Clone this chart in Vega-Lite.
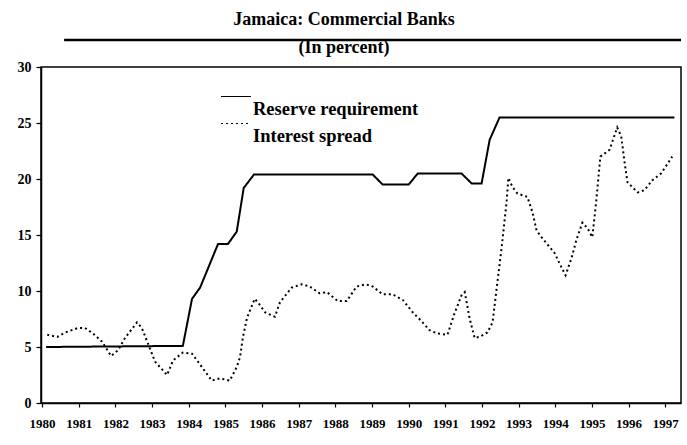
{
  "$schema": "https://vega.github.io/schema/vega-lite/v6.json",
  "width": 640,
  "height": 336,
  "autosize": {"type": "none"},
  "padding": {"left": 41, "top": 67, "right": 6, "bottom": 42},
  "background": "white",
  "title": {
    "text": "Jamaica: Commercial Banks",
    "subtitle": "(In percent)",
    "anchor": "middle",
    "frame": "group",
    "dx": -17,
    "font": "Times New Roman, Liberation Serif, DejaVu Serif, serif",
    "fontSize": 18,
    "fontWeight": "bold",
    "color": "black",
    "subtitleFont": "Times New Roman, Liberation Serif, DejaVu Serif, serif",
    "subtitleFontSize": 18,
    "subtitleFontWeight": "bold",
    "subtitleColor": "black",
    "subtitlePadding": 10,
    "offset": -18
  },
  "config": {
    "view": {"stroke": "black", "strokeWidth": 1.5},
    "axis": {
      "labelFont": "Times New Roman, Liberation Serif, DejaVu Serif, serif",
      "labelFontWeight": "bold",
      "labelColor": "black",
      "domainColor": "black",
      "domainWidth": 1.5,
      "tickColor": "black",
      "tickWidth": 1.2,
      "grid": false,
      "title": null
    }
  },
  "datasets": {
    "series": [
      {"year": 1980.11, "value": 5.0, "series": "Reserve requirement"},
      {"year": 1983.84, "value": 5.1, "series": "Reserve requirement"},
      {"year": 1984.09, "value": 9.3, "series": "Reserve requirement"},
      {"year": 1984.31, "value": 10.3, "series": "Reserve requirement"},
      {"year": 1984.8, "value": 14.2, "series": "Reserve requirement"},
      {"year": 1985.07, "value": 14.2, "series": "Reserve requirement"},
      {"year": 1985.31, "value": 15.3, "series": "Reserve requirement"},
      {"year": 1985.5, "value": 19.2, "series": "Reserve requirement"},
      {"year": 1985.78, "value": 20.4, "series": "Reserve requirement"},
      {"year": 1989.02, "value": 20.4, "series": "Reserve requirement"},
      {"year": 1989.29, "value": 19.5, "series": "Reserve requirement"},
      {"year": 1990.0, "value": 19.5, "series": "Reserve requirement"},
      {"year": 1990.25, "value": 20.5, "series": "Reserve requirement"},
      {"year": 1991.44, "value": 20.5, "series": "Reserve requirement"},
      {"year": 1991.72, "value": 19.6, "series": "Reserve requirement"},
      {"year": 1991.99, "value": 19.6, "series": "Reserve requirement"},
      {"year": 1992.21, "value": 23.5, "series": "Reserve requirement"},
      {"year": 1992.48, "value": 25.5, "series": "Reserve requirement"},
      {"year": 1997.25, "value": 25.5, "series": "Reserve requirement"},
      {"year": 1980.14, "value": 6.1, "series": "Interest spread"},
      {"year": 1980.41, "value": 5.9, "series": "Interest spread"},
      {"year": 1980.63, "value": 6.3, "series": "Interest spread"},
      {"year": 1980.98, "value": 6.7, "series": "Interest spread"},
      {"year": 1981.17, "value": 6.7, "series": "Interest spread"},
      {"year": 1981.39, "value": 6.2, "series": "Interest spread"},
      {"year": 1981.63, "value": 5.5, "series": "Interest spread"},
      {"year": 1981.88, "value": 4.2, "series": "Interest spread"},
      {"year": 1982.07, "value": 4.7, "series": "Interest spread"},
      {"year": 1982.26, "value": 5.8, "series": "Interest spread"},
      {"year": 1982.59, "value": 7.2, "series": "Interest spread"},
      {"year": 1982.72, "value": 6.7, "series": "Interest spread"},
      {"year": 1982.89, "value": 5.3, "series": "Interest spread"},
      {"year": 1983.08, "value": 3.7, "series": "Interest spread"},
      {"year": 1983.41, "value": 2.5, "series": "Interest spread"},
      {"year": 1983.57, "value": 3.8, "series": "Interest spread"},
      {"year": 1983.84, "value": 4.5, "series": "Interest spread"},
      {"year": 1984.09, "value": 4.4, "series": "Interest spread"},
      {"year": 1984.25, "value": 3.7, "series": "Interest spread"},
      {"year": 1984.63, "value": 2.0, "series": "Interest spread"},
      {"year": 1984.85, "value": 2.2, "series": "Interest spread"},
      {"year": 1985.12, "value": 2.0, "series": "Interest spread"},
      {"year": 1985.31, "value": 3.2, "series": "Interest spread"},
      {"year": 1985.4, "value": 4.1, "series": "Interest spread"},
      {"year": 1985.48, "value": 5.9, "series": "Interest spread"},
      {"year": 1985.59, "value": 7.6, "series": "Interest spread"},
      {"year": 1985.8, "value": 9.3, "series": "Interest spread"},
      {"year": 1985.91, "value": 8.9, "series": "Interest spread"},
      {"year": 1986.08, "value": 8.1, "series": "Interest spread"},
      {"year": 1986.35, "value": 7.7, "series": "Interest spread"},
      {"year": 1986.49, "value": 9.0, "series": "Interest spread"},
      {"year": 1986.81, "value": 10.3, "series": "Interest spread"},
      {"year": 1987.08, "value": 10.6, "series": "Interest spread"},
      {"year": 1987.3, "value": 10.4, "series": "Interest spread"},
      {"year": 1987.57, "value": 9.8, "series": "Interest spread"},
      {"year": 1987.77, "value": 9.9, "series": "Interest spread"},
      {"year": 1988.07, "value": 9.1, "series": "Interest spread"},
      {"year": 1988.31, "value": 9.1, "series": "Interest spread"},
      {"year": 1988.58, "value": 10.4, "series": "Interest spread"},
      {"year": 1988.83, "value": 10.6, "series": "Interest spread"},
      {"year": 1989.02, "value": 10.4, "series": "Interest spread"},
      {"year": 1989.29, "value": 9.7, "series": "Interest spread"},
      {"year": 1989.56, "value": 9.7, "series": "Interest spread"},
      {"year": 1989.84, "value": 9.2, "series": "Interest spread"},
      {"year": 1990.11, "value": 8.1, "series": "Interest spread"},
      {"year": 1990.38, "value": 7.2, "series": "Interest spread"},
      {"year": 1990.57, "value": 6.5, "series": "Interest spread"},
      {"year": 1990.79, "value": 6.2, "series": "Interest spread"},
      {"year": 1991.06, "value": 6.1, "series": "Interest spread"},
      {"year": 1991.25, "value": 8.0, "series": "Interest spread"},
      {"year": 1991.44, "value": 9.6, "series": "Interest spread"},
      {"year": 1991.53, "value": 9.9, "series": "Interest spread"},
      {"year": 1991.66, "value": 7.6, "series": "Interest spread"},
      {"year": 1991.8, "value": 5.8, "series": "Interest spread"},
      {"year": 1991.93, "value": 5.9, "series": "Interest spread"},
      {"year": 1992.15, "value": 6.3, "series": "Interest spread"},
      {"year": 1992.29, "value": 7.2, "series": "Interest spread"},
      {"year": 1992.37, "value": 9.4, "series": "Interest spread"},
      {"year": 1992.53, "value": 13.7, "series": "Interest spread"},
      {"year": 1992.67, "value": 17.9, "series": "Interest spread"},
      {"year": 1992.72, "value": 20.1, "series": "Interest spread"},
      {"year": 1992.83, "value": 19.3, "series": "Interest spread"},
      {"year": 1992.97, "value": 18.7, "series": "Interest spread"},
      {"year": 1993.24, "value": 18.4, "series": "Interest spread"},
      {"year": 1993.38, "value": 17.0, "series": "Interest spread"},
      {"year": 1993.49, "value": 15.4, "series": "Interest spread"},
      {"year": 1993.65, "value": 14.7, "series": "Interest spread"},
      {"year": 1993.98, "value": 13.4, "series": "Interest spread"},
      {"year": 1994.11, "value": 12.5, "series": "Interest spread"},
      {"year": 1994.28, "value": 11.4, "series": "Interest spread"},
      {"year": 1994.44, "value": 12.9, "series": "Interest spread"},
      {"year": 1994.58, "value": 14.6, "series": "Interest spread"},
      {"year": 1994.74, "value": 16.1, "series": "Interest spread"},
      {"year": 1994.88, "value": 15.6, "series": "Interest spread"},
      {"year": 1995.01, "value": 14.8, "series": "Interest spread"},
      {"year": 1995.12, "value": 18.1, "series": "Interest spread"},
      {"year": 1995.23, "value": 22.0, "series": "Interest spread"},
      {"year": 1995.48, "value": 22.6, "series": "Interest spread"},
      {"year": 1995.69, "value": 24.6, "series": "Interest spread"},
      {"year": 1995.8, "value": 23.8, "series": "Interest spread"},
      {"year": 1995.89, "value": 21.5, "series": "Interest spread"},
      {"year": 1995.97, "value": 19.7, "series": "Interest spread"},
      {"year": 1996.25, "value": 18.8, "series": "Interest spread"},
      {"year": 1996.43, "value": 19.0, "series": "Interest spread"},
      {"year": 1996.65, "value": 19.9, "series": "Interest spread"},
      {"year": 1996.89, "value": 20.5, "series": "Interest spread"},
      {"year": 1997.19, "value": 22.0, "series": "Interest spread"}
    ],
    "rule": [{"year": 1980.6, "year2": 1997.43, "value": 32.4}]
  },
  "encoding": {
    "x": {
      "field": "year",
      "type": "quantitative",
      "scale": {"domain": [1979.97, 1997.43], "nice": false, "zero": false},
      "axis": {
        "values": [1980, 1981, 1982, 1983, 1984, 1985, 1986, 1987, 1988, 1989, 1990, 1991, 1992, 1993, 1994, 1995, 1996, 1997],
        "tickCount": 18,
        "format": "d",
        "labelFontSize": 13,
        "tickSize": 4,
        "labelPadding": 10,
        "labelDx": 3,
        "labelFlush": false,
        "labelOverlap": false,
        "labelSeparation": 0
      }
    },
    "y": {
      "field": "value",
      "type": "quantitative",
      "scale": {"domain": [0, 30], "nice": false},
      "axis": {
        "values": [0, 5, 10, 15, 20, 25, 30],
        "labelFontSize": 14,
        "tickSize": 5,
        "labelPadding": 5
      }
    }
  },
  "layer": [
    {
      "data": {"name": "series"},
      "mark": {"type": "line", "color": "black", "strokeWidth": 2, "clip": true},
      "encoding": {
        "strokeDash": {
          "field": "series",
          "type": "nominal",
          "scale": {
            "domain": ["Reserve requirement", "Interest spread"],
            "range": [[1, 0], [2, 3]]
          },
          "legend": {
            "title": null,
            "orient": "none",
            "legendX": 179,
            "legendY": 29,
            "symbolType": "stroke",
            "symbolSize": 900,
            "symbolStrokeColor": "black",
            "symbolStrokeWidth": 2,
            "labelFont": "Times New Roman, Liberation Serif, DejaVu Serif, serif",
            "labelFontWeight": "bold",
            "labelFontSize": 18.5,
            "labelColor": "black",
            "labelBaseline": "middle",
            "labelOffset": 1,
            "labelLimit": 300,
            "clipHeight": 25,
            "rowPadding": 2,
            "encode": {"symbols": {"update": {"y": {"value": 0}}}}
          }
        }
      }
    },
    {
      "data": {"name": "rule"},
      "mark": {"type": "rule", "color": "black", "strokeWidth": 2.5, "clip": false},
      "encoding": {
        "x2": {"field": "year2"}
      }
    }
  ]
}
